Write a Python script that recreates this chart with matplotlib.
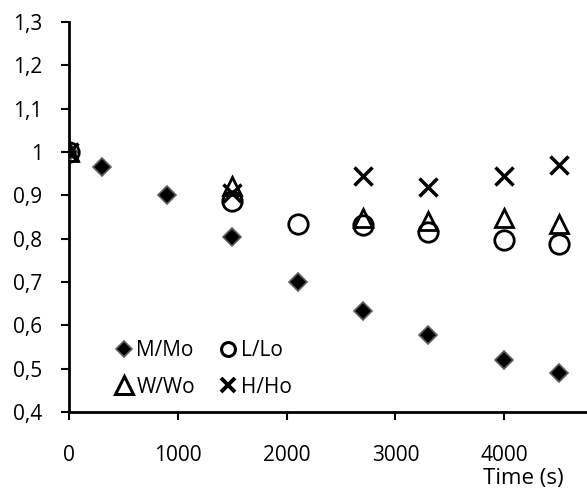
import matplotlib.pyplot as plt
from matplotlib.lines import Line2D
from matplotlib.ticker import FuncFormatter

# Values
time_m = [0, 300, 900, 1500, 2100, 2700, 3300, 4000, 4500]
m_ratio = [1.0, 0.965, 0.90, 0.805, 0.70, 0.634, 0.578, 0.521, 0.491]

time_lwh = [0, 1500, 2100, 2700, 3300, 4000, 4500]
l_ratio = [1.0, 0.886, 0.833, 0.831, 0.815, 0.797, 0.788]

time_wh = [0, 1500, 2700, 3300, 4000, 4500]
w_ratio = [1.0, 0.922, 0.848, 0.842, 0.849, 0.834]
h_ratio = [1.0, 0.905, 0.945, 0.919, 0.944, 0.969]

x_ticks = [0, 1000, 2000, 3000, 4000]
y_ticks = [0.4, 0.5, 0.6, 0.7, 0.8, 0.9, 1.0, 1.1, 1.2, 1.3]

plt.rcParams['font.family'] = ['Open Sans', 'DejaVu Sans']

fig = plt.figure(figsize=(5.87, 4.90), dpi=100)
ax = fig.add_axes([0.1175, 0.159, 0.8825, 0.796])

ax.plot(time_m, m_ratio, linestyle='none', marker='D', ms=9.5,
        mfc='black', mec='#606060', mew=1.2, label='M/Mo', zorder=3)
ax.plot(time_lwh, l_ratio, linestyle='none', marker='o', ms=14,
        mfc='none', mec='black', mew=2.0, label='L/Lo', zorder=3)
ax.plot(time_wh, w_ratio, linestyle='none', marker='^', ms=13,
        mfc='none', mec='black', mew=2.0, label='W/Wo', zorder=3)
ax.plot(time_wh, h_ratio, linestyle='none', marker='x', ms=13,
        mec='black', mew=2.5, label='H/Ho', zorder=3)

ax.set_xlim(0, 4760)
ax.set_ylim(0.4, 1.3)
ax.set_xticks(x_ticks)
ax.set_yticks(y_ticks)


def comma_fmt(v, pos):
    s = f"{v:.1f}".rstrip('0').rstrip('.')
    return s.replace('.', ',')


ax.yaxis.set_major_formatter(FuncFormatter(comma_fmt))
ax.tick_params(axis='both', direction='out', length=6, width=1.5,
               labelsize=15, colors='black')
ax.tick_params(axis='x', pad=18)
ax.tick_params(axis='y', pad=13)

for side in ['top', 'right']:
    ax.spines[side].set_visible(False)
for side in ['left', 'bottom']:
    ax.spines[side].set_linewidth(2)

fig.text(0.891, 0.024, 'Time (s)', ha='center', va='center', fontsize=16)

handles = [
    Line2D([], [], linestyle='none', marker='D', ms=8.5, mfc='black', mec='#606060', mew=1.2),
    Line2D([], [], linestyle='none', marker='^', ms=13, mfc='none', mec='black', mew=2.2),
    Line2D([], [], linestyle='none', marker='o', ms=10, mfc='none', mec='black', mew=2.2),
    Line2D([], [], linestyle='none', marker='x', ms=10, mec='black', mew=2.8),
]
labels = ['M/Mo', 'W/Wo', 'L/Lo', 'H/Ho']
ax.legend(handles, labels, ncol=2, loc='center left',
          bbox_to_anchor=(0.179, 0.247), bbox_transform=fig.transFigure,
          frameon=False, fontsize=15, borderpad=0, handlelength=0.8,
          handletextpad=0.2, columnspacing=1.2, labelspacing=0.75)

fig.savefig('out.png', dpi=100)
